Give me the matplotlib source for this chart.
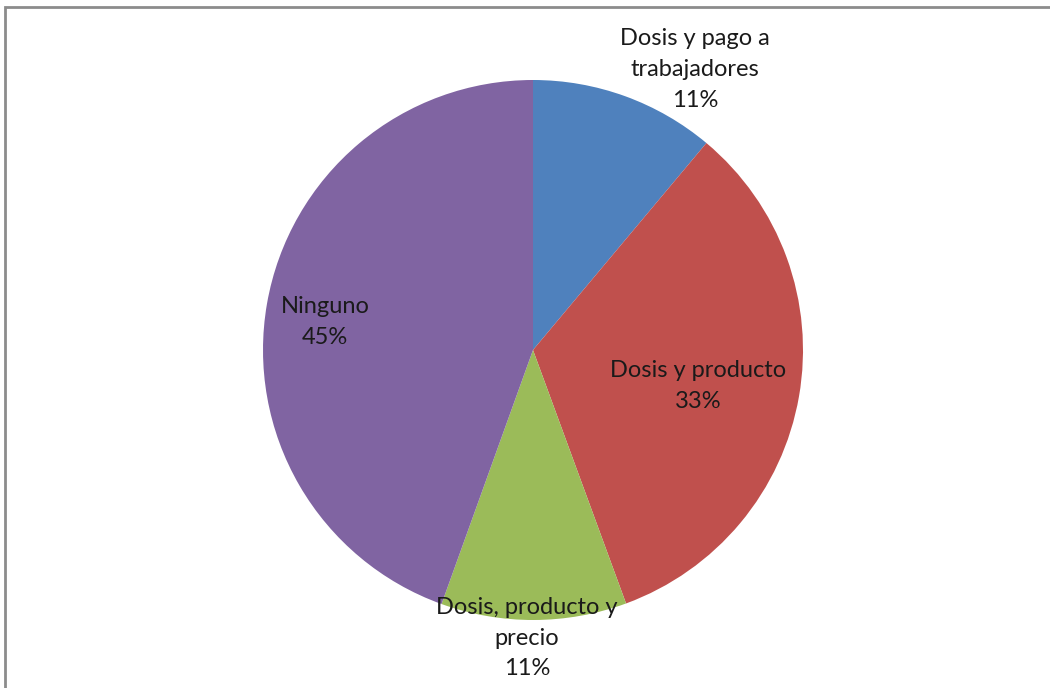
import matplotlib.pyplot as plt
import numpy as np
from matplotlib.patches import Rectangle

categories = ["Dosis y pago a\ntrabajadores", "Dosis y producto", "Dosis, producto y\nprecio", "Ninguno"]
values = [11.1, 33.3, 11.1, 44.5]
pct_labels = ["11%", "33%", "11%", "45%"]
colors = ["#4F81BD", "#C0504D", "#9BBB59", "#8064A2"]

# label placement: radius (pie units) and angle nudge (deg) from the wedge middle
label_r = [1.20, 0.625, 1.067, 0.777]
label_shift = [-10, -2.4, -1.4, 2.2]

plt.rcParams["font.family"] = ["Lato", "DejaVu Sans"]

W, H = 1050, 688
fig = plt.figure(figsize=(W / 100, H / 100), dpi=100)

# pie centre at (533, 350) px, radius 270 px
cx, cy, r = 533, 350, 270
ax = fig.add_axes([(cx - r) / W, (H - cy - r) / H, 2 * r / W, 2 * r / H])
wedges, _ = ax.pie(values, colors=colors, startangle=90, counterclock=False,
                   radius=1.0, wedgeprops=dict(linewidth=0))
ax.set_xlim(-1, 1)
ax.set_ylim(-1, 1)
ax.set_aspect("equal")
ax.axis("off")

for w, name, pct, lr, sh in zip(wedges, categories, pct_labels, label_r, label_shift):
    ang = np.deg2rad((w.theta1 + w.theta2) / 2 + sh)
    ax.text(lr * np.cos(ang), lr * np.sin(ang), f"{name}\n{pct}",
            ha="center", va="center", fontsize=17, color="#1a1a1a",
            linespacing=1.58, clip_on=False)

# chart-area frame (only left and top edges are visible in the crop)
fig.add_artist(Rectangle((5 / W, -0.1), 1.2, (H - 7) / H + 0.1, transform=fig.transFigure,
                         fill=False, edgecolor="#8c8c8c", linewidth=2))

fig.savefig("out.png", dpi=100)
